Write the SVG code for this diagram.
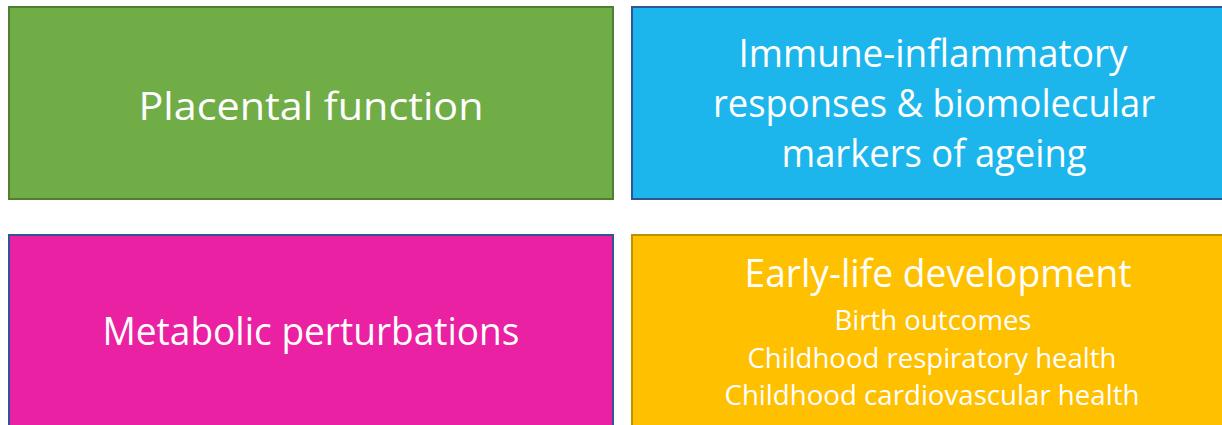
<svg xmlns="http://www.w3.org/2000/svg" width="1222" height="425" viewBox="0 0 1222 425">
<style>
  .box { stroke-width: 2; }
  .t { font-family: "Open Sans", "Liberation Sans", sans-serif; fill: #FFFFFF; text-anchor: middle; }
  .big { font-size: 38px; }
  .small { font-size: 27px; }
</style>
<rect width="1222" height="425" fill="#FFFFFF"/>
<g id="placental">
  <rect class="box" x="9" y="7" width="604" height="192" fill="#70AD47" stroke="#507E32"/>
  <text class="t big" x="311" y="120" textLength="345" lengthAdjust="spacingAndGlyphs">Placental function</text>
</g>
<g id="immune">
  <rect class="box" x="632" y="7" width="605" height="192" fill="#1DB6EC" stroke="#2F5597"/>
  <text class="t big" x="933" y="67" textLength="389" lengthAdjust="spacingAndGlyphs">Immune-inflammatory</text>
  <text class="t big" x="934" y="117" textLength="442" lengthAdjust="spacingAndGlyphs">responses &amp; biomolecular</text>
  <text class="t big" x="934" y="167" textLength="305" lengthAdjust="spacingAndGlyphs">markers of ageing</text>
</g>
<g id="metabolic">
  <rect class="box" x="9" y="235" width="604" height="200" fill="#E921A2" stroke="#2F5597"/>
  <text class="t big" x="311" y="345" textLength="417" lengthAdjust="spacingAndGlyphs">Metabolic perturbations</text>
</g>
<g id="early">
  <rect class="box" x="632" y="235" width="605" height="200" fill="#FFC000" stroke="#BF9000"/>
  <text class="t big" x="938" y="287" textLength="387" lengthAdjust="spacingAndGlyphs">Early-life development</text>
  <text class="t small" x="933" y="330" textLength="197" lengthAdjust="spacingAndGlyphs">Birth outcomes</text>
  <text class="t small" x="932" y="368" textLength="369" lengthAdjust="spacingAndGlyphs">Childhood respiratory health</text>
  <text class="t small" x="932" y="405" textLength="415" lengthAdjust="spacingAndGlyphs">Childhood cardiovascular health</text>
</g>
<g id="connectors"></g>
</svg>
